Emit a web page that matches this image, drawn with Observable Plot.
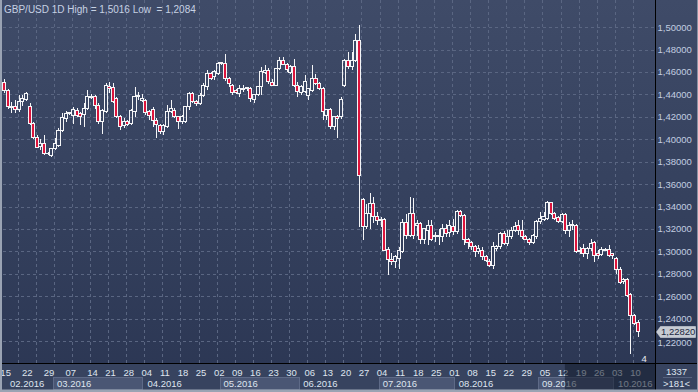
<!DOCTYPE html>
<html>
<head>
<meta charset="utf-8">
<script src="https://cdn.jsdelivr.net/npm/d3@7"></script>
<script src="https://cdn.jsdelivr.net/npm/@observablehq/plot@0.6"></script>
<style>
html, body { margin: 0; padding: 0; background: #2c3754; overflow: hidden; }
svg { display: block; }
</style>
</head>
<body>
<script>
// ---- data ----
const open = [1.4504,1.4439,1.4281,1.4290,1.4262,1.4335,1.4355,1.4296,1.4141,1.4017,
1.3934,1.3963,1.3874,1.3860,1.3919,1.3949,1.4082,1.4186,1.4231,1.4216,
1.4260,1.4231,1.4225,1.4275,1.4385,1.4385,1.4305,1.4156,1.4245,1.4468,
1.4460,1.4364,1.4201,1.4127,1.4156,1.4141,1.4245,1.4379,1.4349,1.4349,
1.4245,1.4266,1.4171,1.4127,1.4067,1.4117,1.4245,1.4260,1.4201,1.4156,
1.4156,1.4290,1.4409,1.4335,1.4320,1.4394,1.4468,1.4587,1.4557,1.4587,
1.4676,1.4676,1.4542,1.4483,1.4432,1.4408,1.4444,1.4453,1.4453,1.4355,
1.4402,1.4468,1.4596,1.4617,1.4503,1.4483,1.4631,1.4700,1.4667,1.4596,
1.4646,1.4483,1.4417,1.4423,1.4393,1.4438,1.4542,1.4497,1.4453,1.4215,
1.4265,1.4111,1.4200,1.4200,1.4483,1.4700,1.4646,1.4706,1.4878,1.3466,
1.3219,1.3338,1.3427,1.3308,1.3272,1.3284,1.3017,1.2927,1.2907,1.2936,
1.3002,1.3255,1.3144,1.3338,1.3234,1.3249,1.3106,1.3189,1.3234,1.3136,
1.3130,1.3130,1.3204,1.3165,1.3219,1.3174,1.3353,1.3323,1.3106,1.3076,
1.3040,1.2999,1.3011,1.2957,1.2907,1.2877,1.3025,1.3040,1.3159,1.3070,
1.3130,1.3189,1.3234,1.3189,1.3130,1.3106,1.3076,1.3130,1.3263,1.3284,
1.3293,1.3433,1.3338,1.3302,1.3263,1.3332,1.3189,1.3234,1.3234,1.3011,
1.3025,1.2981,1.3025,1.3076,1.2981,1.2972,1.3017,1.3017,1.2981,1.2936,
1.2838,1.2728,1.2749,1.2618,1.2431,1.2371];
const high = [1.4534,1.4453,1.4335,1.4349,1.4394,1.4394,1.4420,1.4320,1.4156,1.4038,
1.3999,1.4038,1.3889,1.3925,1.4008,1.4097,1.4231,1.4255,1.4245,1.4290,
1.4280,1.4245,1.4320,1.4439,1.4400,1.4395,1.4320,1.4270,1.4498,1.4513,
1.4498,1.4379,1.4216,1.4186,1.4170,1.4275,1.4468,1.4424,1.4400,1.4364,
1.4260,1.4290,1.4186,1.4141,1.4141,1.4305,1.4349,1.4280,1.4210,1.4215,
1.4300,1.4420,1.4424,1.4349,1.4409,1.4498,1.4617,1.4602,1.4620,1.4690,
1.4690,1.4765,1.4560,1.4497,1.4453,1.4483,1.4483,1.4468,1.4468,1.4400,
1.4475,1.4646,1.4661,1.4640,1.4542,1.4640,1.4735,1.4730,1.4685,1.4661,
1.4720,1.4512,1.4483,1.4572,1.4460,1.4661,1.4587,1.4510,1.4470,1.4265,
1.4280,1.4200,1.4215,1.4378,1.4720,1.4780,1.4780,1.4943,1.5016,1.3481,
1.3427,1.3525,1.3487,1.3353,1.3308,1.3300,1.3040,1.2987,1.2970,1.3040,
1.3293,1.3338,1.3487,1.3481,1.3278,1.3265,1.3204,1.3278,1.3278,1.3174,
1.3204,1.3249,1.3249,1.3278,1.3293,1.3368,1.3368,1.3335,1.3120,1.3090,
1.3055,1.3055,1.3040,1.2970,1.2936,1.3085,1.3055,1.3174,1.3180,1.3189,
1.3219,1.3264,1.3278,1.3278,1.3144,1.3120,1.3159,1.3278,1.3353,1.3353,
1.3450,1.3442,1.3353,1.3320,1.3344,1.3344,1.3263,1.3278,1.3248,1.3040,
1.3070,1.3040,1.3115,1.3090,1.3011,1.3040,1.3030,1.3055,1.2990,1.2951,
1.2862,1.2767,1.2767,1.2630,1.2440,1.2386];
const low = [1.4409,1.4269,1.4231,1.4231,1.4245,1.4300,1.4340,1.4127,1.3999,1.3919,
1.3904,1.3859,1.3859,1.3845,1.3904,1.3934,1.4067,1.4156,1.4216,1.4141,
1.4201,1.4127,1.4112,1.4260,1.4360,1.4275,1.4141,1.4052,1.4231,1.4409,
1.4320,1.4186,1.4082,1.4097,1.4120,1.4130,1.4201,1.4349,1.4330,1.4216,
1.4171,1.4112,1.4008,1.4046,1.4038,1.4100,1.4231,1.4190,1.4088,1.4140,
1.4150,1.4260,1.4320,1.4300,1.4305,1.4379,1.4440,1.4528,1.4530,1.4570,
1.4660,1.4520,1.4468,1.4393,1.4400,1.4378,1.4420,1.4430,1.4334,1.4325,
1.4390,1.4393,1.4580,1.4497,1.4474,1.4475,1.4620,1.4660,1.4600,1.4587,
1.4468,1.4378,1.4393,1.4410,1.4349,1.4420,1.4483,1.4440,1.4170,1.4170,
1.4096,1.4087,1.4010,1.4180,1.4470,1.4631,1.4620,1.4690,1.3219,1.3106,
1.3204,1.3204,1.3255,1.3234,1.3219,1.3002,1.2788,1.2880,1.2850,1.2847,
1.2990,1.3115,1.3130,1.3115,1.3140,1.3070,1.3070,1.3060,1.3090,1.3085,
1.3055,1.3085,1.3130,1.3130,1.3150,1.3159,1.3310,1.3055,1.3025,1.3011,
1.2951,1.2980,1.2921,1.2907,1.2862,1.2847,1.3000,1.3020,1.3060,1.3050,
1.3115,1.3170,1.3144,1.3115,1.3100,1.3060,1.3070,1.3115,1.3248,1.3270,
1.3285,1.3323,1.3278,1.3250,1.3250,1.3159,1.3130,1.3189,1.2990,1.2980,
1.2951,1.2936,1.3000,1.2907,1.2930,1.2960,1.3000,1.2951,1.2936,1.2803,
1.2710,1.2710,1.2594,1.2084,1.2341,1.2237];
const close = [1.4439,1.4290,1.4296,1.4262,1.4335,1.4364,1.4409,1.4141,1.4017,1.3928,
1.3963,1.3874,1.3870,1.3919,1.3963,1.4082,1.4192,1.4231,1.4235,1.4266,
1.4216,1.4201,1.4275,1.4379,1.4373,1.4305,1.4156,1.4260,1.4483,1.4453,
1.4335,1.4201,1.4112,1.4156,1.4135,1.4260,1.4379,1.4385,1.4364,1.4236,
1.4216,1.4171,1.4135,1.4067,1.4127,1.4245,1.4275,1.4201,1.4156,1.4201,
1.4290,1.4409,1.4335,1.4320,1.4394,1.4483,1.4587,1.4542,1.4602,1.4676,
1.4685,1.4542,1.4498,1.4414,1.4414,1.4453,1.4453,1.4455,1.4364,1.4402,
1.4468,1.4602,1.4617,1.4512,1.4483,1.4631,1.4700,1.4667,1.4622,1.4646,
1.4483,1.4423,1.4468,1.4512,1.4453,1.4542,1.4497,1.4453,1.4244,1.4265,
1.4111,1.4200,1.4190,1.4355,1.4706,1.4652,1.4700,1.4878,1.3680,1.3219,
1.3338,1.3427,1.3308,1.3272,1.3284,1.3011,1.2927,1.2907,1.2957,1.3011,
1.3255,1.3144,1.3338,1.3144,1.3249,1.3106,1.3204,1.3234,1.3106,1.3140,
1.3144,1.3204,1.3159,1.3234,1.3174,1.3353,1.3323,1.3106,1.3076,1.3040,
1.2996,1.3025,1.2957,1.2921,1.2877,1.3040,1.3040,1.3159,1.3070,1.3130,
1.3189,1.3219,1.3189,1.3130,1.3106,1.3076,1.3144,1.3263,1.3293,1.3314,
1.3433,1.3338,1.3293,1.3263,1.3332,1.3189,1.3234,1.3238,1.2996,1.2996,
1.2981,1.3025,1.3070,1.2966,1.2966,1.3017,1.3011,1.2966,1.2966,1.2838,
1.2719,1.2749,1.2609,1.2425,1.2356,1.2282];

const priceTicks = [1.22,1.24,1.26,1.28,1.30,1.32,1.34,1.36,1.38,1.40,1.42,1.44,1.46,1.48,1.50];
const dayLabels = ["15","22","29","07","14","21","28","04","11","18","25","02","09","16","23","30","06","13","20","27","04","11","18","25","01","08","15","22","29","05","12","19","26","03","10"];
const dayBar = [0,6,12,18,24,29,34,39,44,49,54,59,64,69,74,79,84,89,94,99,104,109,114,119,124,129,134,139,144,149,154,159,164,169,174];
const gridBar = [4,9,14,19,24,29,34,39,44,49,54,59,64,69,74,79,84,89,94,99,104,109,114,119,124,129,134,139,144,149,154,159,164,169,174];
const monthLabels = ["02.2016","03.2016","04.2016","05.2016","06.2016","07.2016","08.2016","09.2016","10.2016"];
const monthFirstBar = [1,14,39,60,82,104,125,148,169];
const titleText = "GBP/USD 1D High = 1,5016 Low  = 1,2084";
const lastPrice = 1.2282;
const barCountText = ">181<";
const infoText = "1337";
const countdownText = "4";

// ---- chart ----
const candles = open.map((o, i) => ({i, o, h: high[i], l: low[i], c: close[i]}));
const bodyTop = d => Math.max(Math.max(d.o, d.c), Math.min(d.o, d.c) + 0.0008);
const bodyBot = d => Math.min(d.o, d.c);
const up = candles.filter(d => d.c >= d.o);
const down = candles.filter(d => d.c < d.o);

const WHITE = "#f4f5f7", RED = "#dc143c", GRID = "#5a6682";
const FONT = "'Liberation Sans', Arial, sans-serif";

const chart = Plot.plot({
  width: 698, height: 392,
  marginLeft: 3, marginRight: 43, marginTop: 0, marginBottom: 29,
  x: {domain: [-0.33, 179.8], axis: null},
  y: {domain: [1.20055, 1.52426], axis: null},
  style: {
    background: "linear-gradient(180deg, #3f4b68 0%, #35415e 50%, #2b3653 100%)",
    fontFamily: FONT,
    fontSize: "10px",
    overflow: "visible"
  },
  marks: [
    Plot.ruleY(priceTicks, {stroke: GRID, strokeDasharray: "3,3", shapeRendering: "crispEdges"}),
    Plot.ruleX(gridBar, {x: d => d - 0.3, stroke: GRID, strokeDasharray: "3,3", shapeRendering: "crispEdges"}),
    Plot.ruleX(candles, {x: "i", y1: "h", y2: bodyTop, stroke: WHITE, shapeRendering: "crispEdges"}),
    Plot.ruleX(candles, {x: "i", y1: bodyBot, y2: "l", stroke: WHITE, shapeRendering: "crispEdges"}),
    Plot.rect(down, {x1: d => d.i - 0.42, x2: d => d.i + 0.42, y1: "o", y2: "c", fill: RED, stroke: WHITE, shapeRendering: "crispEdges"}),
    Plot.rect(up, {x1: d => d.i - 0.42, x2: d => d.i + 0.42, y1: bodyBot, y2: bodyTop, fill: "none", stroke: WHITE, shapeRendering: "crispEdges"})
  ]
});
document.body.appendChild(chart);

// ---- axes and chart chrome, placed through Plot's scales ----
const sx = chart.scale("x"), sy = chart.scale("y");
const X = v => sx.apply(v), Y = v => sy.apply(v);
const svg = d3.select(chart);
const g = svg.append("g")
  .attr("font-family", FONT)
  .attr("font-size", 9.5)
  .attr("text-anchor", "start");

const W = 698, H = 392, plotBottom = Y(1.20055), plotRight = X(179.8);
const yp = Y(lastPrice);

// bottom axis band
g.append("rect").attr("x", 0).attr("y", plotBottom).attr("width", W).attr("height", H - plotBottom).attr("fill", "#37435f");

// month boxes (alternate months shaded)
monthLabels.forEach((m, k) => {
  const x0 = X(monthFirstBar[k] - 0.5);
  const x1 = k + 1 < monthFirstBar.length ? X(monthFirstBar[k + 1] - 0.5) : plotRight;
  if (k % 2 === 1) {
    g.append("rect").attr("x", Math.round(x0) + 0.5).attr("y", 377.5)
      .attr("width", Math.round(x1 - x0) - 1).attr("height", 12)
      .attr("fill", "#4a5674").attr("stroke", "#5e6a87");
  }
  g.append("text").attr("x", x0 + 4).attr("y", 387).attr("text-anchor", "start").attr("fill", "#dfe5ef").text(m);
});

// day labels
dayLabels.forEach((t, k) => {
  g.append("text").attr("x", X(dayBar[k] + 0.4)).attr("y", 375.5)
    .attr("text-anchor", "middle").attr("fill", "#dfe5ef").text(t);
});

// dimmed overlay at the right of the time axis
g.append("rect").attr("x", X(154.9)).attr("y", plotBottom + 1).attr("width", plotRight - X(154.9)).attr("height", H - plotBottom - 3)
  .attr("fill", "rgba(18,25,42,0.55)");

// price labels (nudged clear of the current-price tag)
priceTicks.forEach(v => {
  let y = Y(v);
  const d = y - yp;
  if (Math.abs(d) < 11) y = yp + Math.sign(d || 1) * 11;
  g.append("text").attr("x", plotRight + 2.5).attr("y", y + 3.4).attr("text-anchor", "start")
    .attr("fill", "#c2cde0").text(v.toFixed(5).replace(".", ","));
});

// separators
g.append("line").attr("x1", 0).attr("x2", W).attr("y1", Math.round(plotBottom) + 0.5).attr("y2", Math.round(plotBottom) + 0.5).attr("stroke", "#000");
g.append("line").attr("x1", Math.round(plotRight) + 0.5).attr("x2", Math.round(plotRight) + 0.5).attr("y1", 0).attr("y2", H).attr("stroke", "#000");

// right-bottom info box
const cx = (plotRight + W) / 2;
g.append("text").attr("x", cx).attr("y", 374.5).attr("text-anchor", "middle").attr("fill", "#dfe5ef").text(infoText);
g.append("line").attr("x1", plotRight + 8).attr("x2", W - 6).attr("y1", 377.5).attr("y2", 377.5).attr("stroke", "#56627e");
g.append("text").attr("x", cx).attr("y", 387).attr("text-anchor", "middle").attr("fill", "#dfe5ef").text(barCountText);

// countdown
g.append("text").attr("x", X(176.8)).attr("y", plotBottom - 1.5).attr("text-anchor", "middle").attr("fill", "#e8ecf2").text(countdownText);

// current price tag
const tx = plotRight + 1.5;
g.append("path")
  .attr("d", `M${tx},${yp} L${tx + 4},${yp - 5.5} H${W - 2.5} V${yp + 5.5} H${tx + 4} Z`)
  .attr("fill", "#c6cbd3").attr("stroke", "#e3e6ea").attr("stroke-width", 0.5);
g.append("text").attr("x", tx + 4.5).attr("y", yp + 3.4).attr("text-anchor", "start").attr("fill", "#1c2740").text(lastPrice.toFixed(5).replace(".", ","));

// title
g.append("text").attr("x", 4).attr("y", 12.5).attr("font-size", 10).attr("text-anchor", "start").attr("fill", "#c6d1e3").style("white-space", "pre").text(titleText);

// outer frame
g.append("rect").attr("x", 0).attr("y", 0).attr("width", 2).attr("height", H).attr("fill", "#9aa3b3");
g.append("rect").attr("x", 0).attr("y", H - 2.5).attr("width", W).attr("height", 2.5).attr("fill", "#9aa3b3");
g.append("rect").attr("x", W - 1).attr("y", 0).attr("width", 1).attr("height", H).attr("fill", "#8a93a4");
</script>
</body>
</html>
